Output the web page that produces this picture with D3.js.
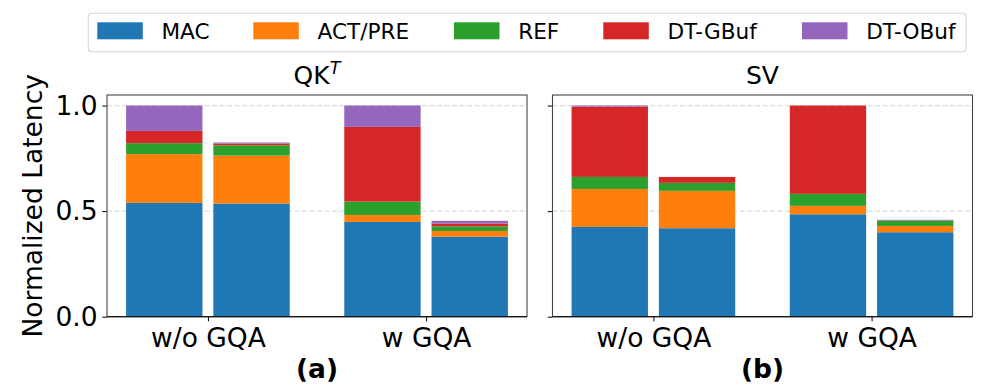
<!DOCTYPE html>
<html>
<head>
<meta charset="utf-8">
<script src="https://cdn.jsdelivr.net/npm/d3@7"></script>
<style>
  body { margin: 0; background: #fff; }
  text { font-family: "DejaVu Sans", sans-serif; }
</style>
</head>
<body>
<svg id="chart" width="996" height="387"></svg>
<script>
const categories = ["w/o GQA", "w GQA"];
const components = ["MAC", "ACT/PRE", "REF", "DT-GBuf", "DT-OBuf"];
const colors = ["#1f77b4", "#ff7f0e", "#2ca02c", "#d62728", "#9467bd"];
const yTicks = [0, 0.5, 1.0];

// bars per panel: [w/o GQA base, w/o GQA opt, w GQA base, w GQA opt]
const qkMAC = [0.539, 0.536, 0.449, 0.379];
const qkACT = [0.231, 0.227, 0.033, 0.027];
const qkREF = [0.052, 0.049, 0.063, 0.022];
const qkGBuf = [0.058, 0.008, 0.354, 0.013];
const qkOBuf = [0.120, 0.005, 0.101, 0.013];

const svMAC = [0.425, 0.419, 0.485, 0.400];
const svACT = [0.180, 0.177, 0.040, 0.030];
const svREF = [0.057, 0.038, 0.057, 0.024];
const svGBuf = [0.333, 0.028, 0.418, 0.002];
const svOBuf = [0.005, 0.000, 0.000, 0.003];

const panels = [
  { title: "QK", sup: "T", sub: "(a)", series: [qkMAC, qkACT, qkREF, qkGBuf, qkOBuf], left: 107, yLabels: true },
  { title: "SV", sup: null, sub: "(b)", series: [svMAC, svACT, svREF, svGBuf, svOBuf], left: 552.5, yLabels: false }
];

const tickFont = 26.5;
const titleFont = 25;
const legendFont = 21.6;
const plotTop = 95, plotH = 221.7, plotW = 420;
const barW = 0.35, offsets = [-0.2, 0.2];

const svg = d3.select("#chart");

const y = d3.scaleLinear().domain([0, 1.05]).range([plotH, 0]);
const x = d3.scaleLinear().domain([-0.4625, 1.4625]).range([0, plotW]);

panels.forEach((p) => {
  const g = svg.append("g").attr("transform", `translate(${p.left},${plotTop})`);

  const rows = d3.range(4).map((i) => {
    const r = { group: Math.floor(i / 2), variant: i % 2 };
    components.forEach((c, k) => (r[c] = p.series[k][i]));
    return r;
  });
  const stacked = d3.stack().keys(components)(rows);

  // Grid
  g.append("g")
    .selectAll("line")
    .data([0.5, 1.0])
    .join("line")
    .attr("x1", 0)
    .attr("x2", plotW)
    .attr("y1", (d) => y(d))
    .attr("y2", (d) => y(d))
    .attr("stroke", "#dcdcdc")
    .attr("stroke-width", 1.2)
    .attr("stroke-dasharray", "5,2.5");

  // Bars
  g.append("g")
    .selectAll("g")
    .data(stacked)
    .join("g")
    .attr("fill", (d, k) => colors[k])
    .selectAll("rect")
    .data((d) => d)
    .join("rect")
    .attr("x", (d) => x(d.data.group + offsets[d.data.variant] - barW / 2))
    .attr("width", x(barW) - x(0))
    .attr("y", (d) => y(d[1]))
    .attr("height", (d) => Math.max(0, y(d[0]) - y(d[1])));

  // Y axis
  const ya = g.append("g")
    .call(
      d3.axisLeft(y)
        .tickValues(yTicks)
        .tickSize(4.7)
        .tickPadding(4.7)
        .tickFormat(p.yLabels ? d3.format(".1f") : () => "")
    );
  ya.select(".domain").remove();
  ya.selectAll("text").attr("font-size", tickFont).attr("font-family", "DejaVu Sans").attr("fill", "#000");

  // X axis
  const xa = g.append("g")
    .attr("transform", `translate(0,${plotH})`)
    .call(
      d3.axisBottom(x)
        .tickValues([0, 1])
        .tickSize(4.7)
        .tickPadding(6.5)
        .tickFormat((d) => categories[d])
    );
  xa.select(".domain").remove();
  xa.selectAll("text").attr("font-size", tickFont).attr("font-family", "DejaVu Sans").attr("fill", "#000");

  // Frame
  g.append("rect")
    .attr("width", plotW)
    .attr("height", plotH)
    .attr("fill", "none")
    .attr("stroke", "#444")
    .attr("stroke-width", 1.1);
  g.append("line")
    .attr("x1", 0).attr("x2", plotW)
    .attr("y1", plotH).attr("y2", plotH)
    .attr("stroke", "#000")
    .attr("stroke-width", 1.1);

  // Title
  const t = g.append("text")
    .attr("x", plotW / 2)
    .attr("y", -10.7)
    .attr("text-anchor", "middle")
    .attr("font-size", titleFont)
    .text(p.title);
  if (p.sup) {
    t.append("tspan")
      .attr("dy", -10)
      .attr("font-size", titleFont * 0.7)
      .attr("font-style", "italic")
      .text(p.sup);
  }

  // Subcaption
  g.append("text")
    .attr("x", plotW / 2)
    .attr("y", plotH + 61.5)
    .attr("text-anchor", "middle")
    .attr("font-size", tickFont)
    .attr("font-weight", "bold")
    .text(p.sub);
});

// Y label
svg.append("text")
  .attr("transform", `translate(42,${plotTop + plotH / 2}) rotate(-90)`)
  .attr("text-anchor", "middle")
  .attr("font-size", tickFont)
  .text("Normalized Latency");

// Legend
const legend = svg.append("g");
legend.append("rect")
  .attr("x", 88.3)
  .attr("y", 13.3)
  .attr("width", 877.7)
  .attr("height", 38.4)
  .attr("rx", 3)
  .attr("fill", "#fff")
  .attr("stroke", "#d6d6d6")
  .attr("stroke-width", 1.1);

const legendX = [97.3, 253.3, 454, 603.3, 802];
const items = legend.selectAll("g.item")
  .data(components)
  .join("g")
  .attr("class", "item")
  .attr("transform", (d, i) => `translate(${legendX[i]},22.3)`);
items.append("rect")
  .attr("width", 45.5)
  .attr("height", 17)
  .attr("fill", (d, i) => colors[i]);
items.append("text")
  .attr("x", 64.2)
  .attr("y", 16.6)
  .attr("font-size", legendFont)
  .text((d) => d);
</script>
</body>
</html>
